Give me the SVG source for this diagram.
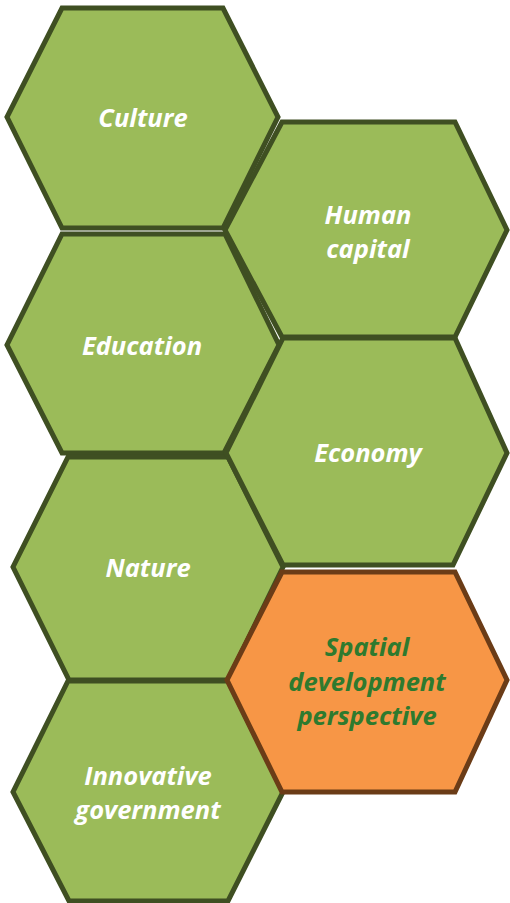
<svg xmlns="http://www.w3.org/2000/svg" width="510" height="903" viewBox="0 0 510 903">
<style>
.hex{fill:#9bbb59;stroke:#3f4f22;stroke-width:5;stroke-linejoin:miter}
.hexo{fill:#f79646;stroke:#6b3c17;stroke-width:5;stroke-linejoin:miter}
.t{font-family:"Open Sans","Liberation Sans",sans-serif;font-weight:bold;font-style:italic;font-size:25.5px;fill:#ffffff;text-anchor:middle}
.to{fill:#2e7a2e}
</style>
<rect width="510" height="903" fill="#ffffff"/>
<g id="culture">
<polygon class="hex" points="62,8 223,8 278,117 223,228 62,228 7,117"/>
<text class="t" x="143" y="127">Culture</text>
</g>
<g id="education">
<polygon class="hex" points="62,234 225,234 279,345 224,453 62,453 7,345"/>
<text class="t" x="142" y="355">Education</text>
</g>
<g id="nature">
<polygon class="hex" points="68,457 228,457 283,567 228,680 69,680 13,567"/>
<text class="t" x="148" y="577">Nature</text>
</g>
<g id="innovative-government">
<polygon class="hex" points="68,681 228,681 283,792 228,901 69,901 13,792"/>
<text class="t" x="148" y="785">Innovative</text>
<text class="t" x="148" y="819">government</text>
</g>
<g id="human-capital">
<polygon class="hex" points="282,122 455,122 507,230 455,337 282,337 225,230"/>
<text class="t" x="368" y="224">Human</text>
<text class="t" x="368" y="258">capital</text>
</g>
<g id="economy">
<polygon class="hex" points="283,338 455,338 507,453 453,565 283,565 226,453"/>
<text class="t" x="368" y="462">Economy</text>
</g>
<g id="spatial-development-perspective">
<polygon class="hexo" points="282,572 455,572 507,680 455,792 282,792 227,680"/>
<text class="t to" x="367" y="656">Spatial</text>
<text class="t to" x="367" y="691">development</text>
<text class="t to" x="367" y="725">perspective</text>
</g>
<g id="connectors"></g>
</svg>
